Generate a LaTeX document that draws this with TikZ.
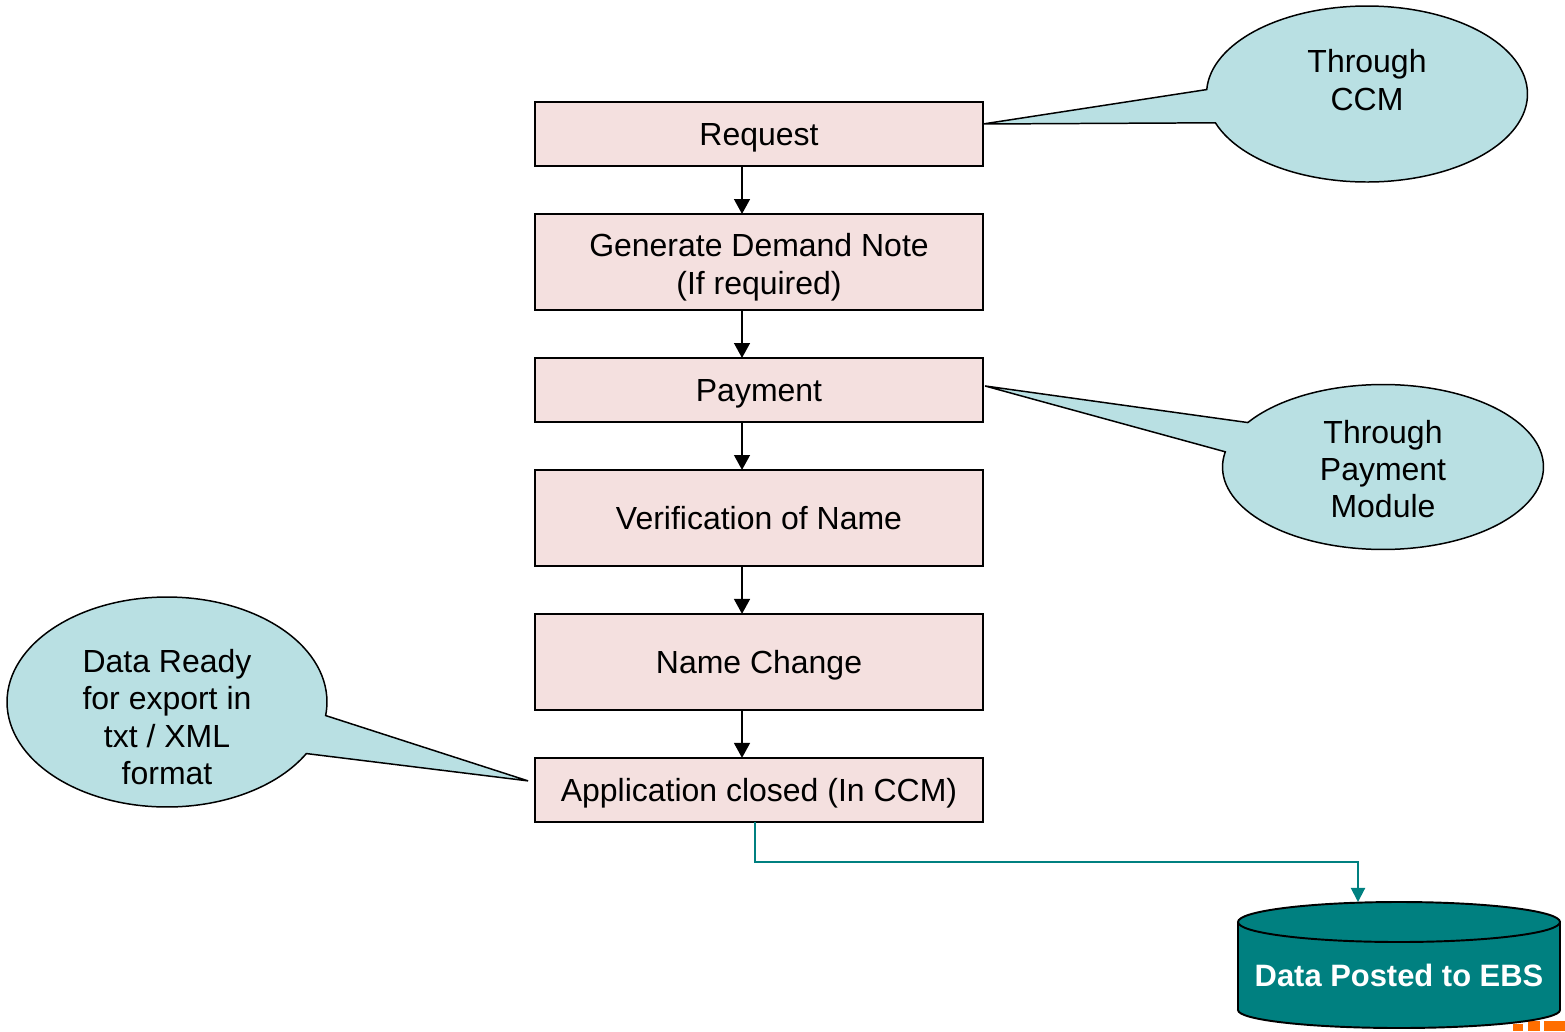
\documentclass[tikz,border=0pt]{standalone}
\usepackage{fontspec}
\setmainfont{Liberation Sans}
\usepackage{tikz}
\usetikzlibrary{shapes,shapes.callouts,arrows.meta,calc,positioning}

\definecolor{boxpink}{RGB}{244,224,223}
\definecolor{noteblue}{RGB}{185,224,227}
\definecolor{ebsteal}{RGB}{0,128,128}
\definecolor{logoorange}{RGB}{255,110,0}

\tikzset{
	stepbox/.style={draw=black, line width=1.1pt, outer sep=0pt, fill=boxpink, minimum width=8.96cm, minimum height=1.28cm, align=center, font=\fontsize{18.2}{21.3}\selectfont},
	onebox/.style={stepbox, text height=13pt, text depth=0pt},
	tallbox/.style={onebox, minimum height=1.92cm},
	note/.style={ellipse callout, draw=black, line width=0.85pt, fill=noteblue, callout pointer arc=22},
	notetext/.style={align=center, font=\fontsize{18.2}{21.3}\selectfont},
}

\begin{document}
\begin{tikzpicture}[x=0.02cm, y=-0.02cm, >={Triangle[width=9pt,length=8.5pt]}, node distance=0.96cm]
		\useasboundingbox (0,0) rectangle (1565,1031);

		% flow of boxes
		\node[onebox] (req) at (759,134) {Request};
		\node[stepbox, minimum height=1.92cm, below=of req] (dem) {\rule{0pt}{19pt}Generate Demand Note\\(If required)};
		\node[onebox, below=of dem] (pay) {Payment};
		\node[tallbox, below=of pay] (ver) {Verification of Name};
		\node[tallbox, below=of ver] (chg) {Name Change};
		\node[onebox, below=of chg] (app) {Application closed (In CCM)};

		\draw[->, line width=1.1pt] ([xshift=-0.34cm]req.south) -- ([xshift=-0.34cm]dem.north);
		\draw[->, line width=1.1pt] ([xshift=-0.34cm]dem.south) -- ([xshift=-0.34cm]pay.north);
		\draw[->, line width=1.1pt] ([xshift=-0.34cm]pay.south) -- ([xshift=-0.34cm]ver.north);
		\draw[->, line width=1.1pt] ([xshift=-0.34cm]ver.south) -- ([xshift=-0.34cm]chg.north);
		\draw[->, line width=1.1pt] ([xshift=-0.34cm]chg.south) -- ([xshift=-0.34cm]app.north);

		% callouts
		\node[note, minimum width=6.42cm, minimum height=3.52cm, callout absolute pointer={($(req.east)+(0,-10)$)}] (ccm) at (1367,94) {};
		\node[notetext] (ccmtxt) at (1367,80) {Through\\CCM};

		\node[note, minimum width=6.42cm, minimum height=3.3cm, callout absolute pointer={($(pay.east)+(2,-4)$)}] (pmod) at (1383,467) {};
		\node[notetext] (pmodtxt) at (1383,469) {Through\\Payment\\Module};

		\node[note, minimum width=6.4cm, minimum height=4.2cm, callout absolute pointer={($(app.west)+(-7,-9)$)}] (ready) at (167,702) {};
		\node[notetext] (readytxt) at (167,717) {Data Ready\\for export in\\txt / XML\\format};

		% database
		\fill[logoorange] (1513,1024) rectangle (1523,1031);
		\fill[logoorange] (1528,1021) rectangle (1540,1031);
		\fill[logoorange] (1544,1021) rectangle (1565,1031);

		\filldraw[fill=ebsteal, draw=black, line width=1.1pt] (1399,1010) ellipse (161 and 18);
		\fill[ebsteal] (1238,922) rectangle (1560,1010);
		\draw[line width=1.1pt] (1238,922) -- (1238,1010);
		\draw[line width=1.1pt] (1560,922) -- (1560,1010);
		\filldraw[fill=ebsteal, draw=black, line width=1.1pt] (1399,922) ellipse (161 and 20);
		\node[text=white, font=\bfseries\fontsize{17.6}{21}\selectfont] (ebs) at (1399,975) {Data Posted to EBS};
		\coordinate (dbtop) at (1399,902);
		\coordinate (bend) at (1358,862);

		\draw[->, ebsteal, line width=1.1pt, >={Triangle[width=8pt,length=8pt]}] ([xshift=-0.08cm]app.south) |- (bend) -- (bend |- dbtop);
	\end{tikzpicture}
\end{document}
